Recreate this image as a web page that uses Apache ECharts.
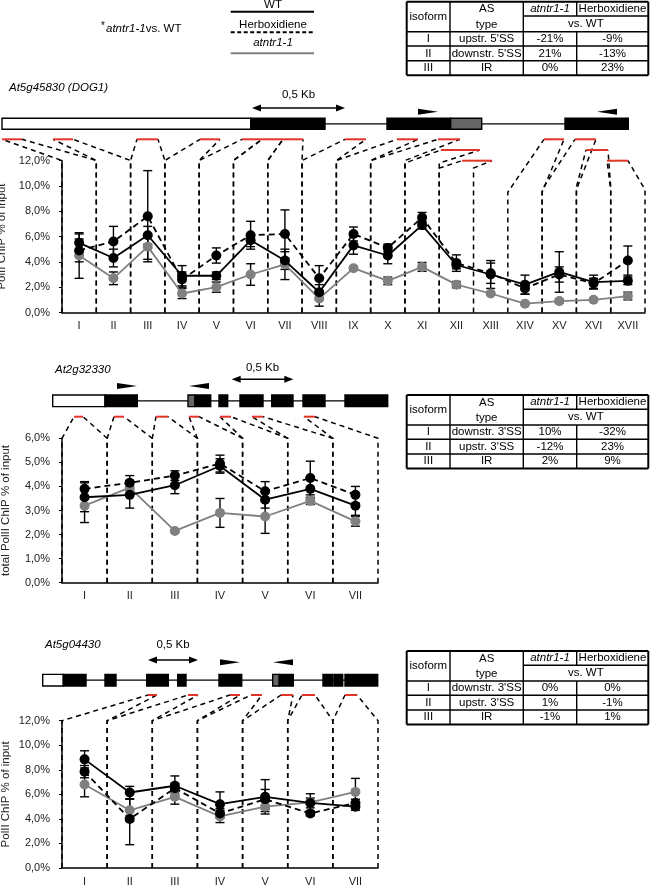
<!DOCTYPE html>
<html><head><meta charset="utf-8">
<script src="https://cdn.jsdelivr.net/npm/echarts@6/dist/echarts.min.js"></script>
<style>html,body{margin:0;padding:0;background:#fff}#c{width:650px;height:886px}</style>
</head><body><div id="c"></div>
<script>
const FONT = '"Liberation Sans", Arial, Helvetica, sans-serif';

// ---------- data: panel 1 (At5g45830) ----------
const cats1 = ['I','II','III','IV','V','VI','VII','VIII','IX','X','XI','XII','XIII','XIV','XV','XVI','XVII'];
const wt1    = [5.5,4.3,6.1,2.9,2.9,5.7,4.1,1.6,5.3,4.5,6.9,3.75,3.0,2.2,3.2,2.4,2.5];
const wt1Err = [0.7,0.7,0.7,0.8,0.3,0.5,0.7,0.6,0.7,0.65,0.3,0.3,1.1,0.75,1.6,0.55,0.3];
const herb1    = [4.9,5.6,7.6,2.6,4.5,6.1,6.2,2.7,6.2,5.1,7.5,3.9,3.1,1.9,3.0,2.3,4.1];
const herb1Err = [0.9,1.2,3.6,0.6,0.6,1.1,1.9,1.0,0.55,0.3,0.4,0.65,0.8,0.45,0.6,0.4,1.15];
const ntr1    = [4.5,2.7,5.2,1.5,2.0,3.0,3.8,1.1,3.5,2.5,3.6,2.2,1.5,0.7,0.9,1.0,1.3];
const ntr1Err = [1.8,0.5,1.0,0.4,0.4,0.85,1.2,0.6,0.15,0.3,0.35,0.25,0.1,0.05,0.15,0.1,0.3];
const sig1 = ['','','','*','','*','','','*','*','**','**','','*','','*','*'];

// ---------- data: panel 2 (At2g32330) ----------
const cats2 = ['I','II','III','IV','V','VI','VII'];
const wt2    = [3.55,3.65,4.05,4.85,3.45,3.9,3.2];
const wt2Err = [0.6,0.55,0.35,0.3,0.35,0.4,0.4];
const herb2    = [3.9,4.15,4.45,4.95,3.8,4.35,3.65];
const herb2Err = [0.3,0.3,0.2,0.35,0.4,0.7,0.35];
const ntr2    = [3.2,3.95,2.15,2.9,2.75,3.4,2.55];
const ntr2Err = [0.7,0.3,0.05,0.6,0.7,0.15,0.2];
const sig2 = ['','','**','**','','',''];

// ---------- data: panel 3 (At5g04430) ----------
const cats3 = ['I','II','III','IV','V','VI','VII'];
const wt3    = [8.85,6.15,6.7,5.2,5.8,5.3,5.0];
const wt3Err = [0.7,0.5,0.8,1.0,1.4,0.4,0.3];
const herb3    = [7.85,4.0,6.5,4.45,5.6,4.45,5.3];
const herb3Err = [0.5,2.1,0.4,0.4,0.8,0.2,0.3];
const ntr3    = [6.8,4.7,5.8,4.2,5.0,5.35,6.2];
const ntr3Err = [1.0,0.9,0.6,0.5,0.4,0.7,1.1];
const sig3 = ['*','','','','','',''];

// ---------- axes ----------
const yMax = [12, 6, 12];
const yStep = [2, 1, 2];
const yNames = ['PolII ChIP % of input', 'total PolII ChIP % of input', 'PolII ChIP % of input'];
const sigLevel = [10.5, 5.85, 10.8];
const kneeLevels1 = [12,12,12,12,12,12,12,12,12,12,11.8,11.4,null,9.5,9.7,9.9,9.7];
const kneeLevels2 = [6,6,6,6,6,6,6];
const kneeLevels3 = [12,12,12,12,12,12,12];

// ---------- gene structures (diagram units) ----------
const geneNames = ['At5g45830 (DOG1)', 'At2g32330', 'At5g04430'];
const gene1Span = [2, 628.3];
const gene1Exons = [[2,250.7,'utr'],[250.7,325,'cds'],[387,450.7,'cds'],[450.7,481.7,'ret'],[565,628.3,'cds']];
const gene1Probes = [[2,22,0],[53,73,0],[137,158,0],[200,220,0],[242,262,0],[262,283,0],[283,303,0],[345,366,0],[397,418,0],[438,460,0],[441,480,1],[462,492,2],null,[544,564,0],[575,596,0],[586,608,1],[607,628,2]];
const gene1Primers = [[418,438,1],[597,617,-1]];
const gene1Scale = [252,345];

const gene2Span = [52.7, 387.7];
const gene2Exons = [[52.7,105,'utr'],[105,137.3,'cds'],[188,195,'ret'],[195,210.7,'cds'],[219,227.7,'cds'],[240,263,'cds'],[271.7,293,'cds'],[303,325,'cds'],[345,387.7,'cds']];
const gene2Probes = [[74,83,0],[114,124,0],[156,168,0],[189,199,0],[220,231,0],[252,263,0],[304,315,0]];
const gene2Primers = [[117,137,1],[189,209,-1]];
const gene2Scale = [231.7,293.3];

const gene3Span = [42.7, 377.7];
const gene3Exons = [[42.7,63.3,'utr'],[63.3,86,'cds'],[105,116,'cds'],[146.7,168.3,'cds'],[177.7,186,'cds'],[219,241.7,'cds'],[272.7,279.3,'ret'],[279.3,293.3,'cds'],[323,332.7,'cds'],[334,342.7,'cds'],[345,377.7,'cds']];
const gene3Probes = [[148,157,0],[188,198,0],[230,240,0],[251,262,0],[281,293,0],[302,315,0],[345,357,0]];
const gene3Primers = [[220,240,1],[273,293,-1]];
const gene3Scale = [148,198];
const scaleLabel = '0,5 Kb';

// ---------- legend & tables ----------
const seriesNames = ['WT', 'Herboxidiene', 'atntr1-1'];
const tableHeader = ['isoform', 'AS', 'type', 'atntr1-1', 'Herboxidiene', 'vs. WT'];
const table1Rows = [['I',"upstr. 5'SS",'-21%','-9%'],['II',"downstr. 5'SS",'21%','-13%'],['III','IR','0%','23%']];
const table2Rows = [['I',"downstr. 3'SS",'10%','-32%'],['II',"upstr. 3'SS",'-12%','23%'],['III','IR','2%','9%']];
const table3Rows = [['I',"downstr. 3'SS",'0%','0%'],['II',"upstr. 3'SS",'1%','-1%'],['III','IR','-1%','1%']];

// ---------- assemble ----------
const panels = [
  {cats:cats1, wt:wt1, wtE:wt1Err, herb:herb1, herbE:herb1Err, ntr:ntr1, ntrE:ntr1Err, sig:sig1, knees:kneeLevels1},
  {cats:cats2, wt:wt2, wtE:wt2Err, herb:herb2, herbE:herb2Err, ntr:ntr2, ntrE:ntr2Err, sig:sig2, knees:kneeLevels2},
  {cats:cats3, wt:wt3, wtE:wt3Err, herb:herb3, herbE:herb3Err, ntr:ntr3, ntrE:ntr3Err, sig:sig3, knees:kneeLevels3}
];
const genes = [
  {span:gene1Span, exons:gene1Exons, probes:gene1Probes, primers:gene1Primers, scale:gene1Scale},
  {span:gene2Span, exons:gene2Exons, probes:gene2Probes, primers:gene2Primers, scale:gene2Scale},
  {span:gene3Span, exons:gene3Exons, probes:gene3Probes, primers:gene3Primers, scale:gene3Scale}
];
const geneLayout = [
  {top:85,  bar:38.8, barH:11,   mark:54.3, step:10.7, scaleY:23,   textY:10, primerY:26.7, nameX:9,  nameY:88},
  {top:360, bar:40.8, barH:11.7, mark:56.7, step:10.7, scaleY:19.3, textY:8,  primerY:26,   nameX:55, nameY:370},
  {top:640, bar:40.2, barH:11.7, mark:55,   step:10.7, scaleY:20,   textY:5,  primerY:22.3, nameX:45, nameY:645}
];
const chartGrids = [
  {left:62, top:160.5, width:583, height:152},
  {left:62, top:438.3, width:316, height:144.4},
  {left:62, top:720.7, width:316, height:147.3}
];
const RED = '#e3342a';
const GRAY = '#808080';

const grids = chartGrids.concat(geneLayout.map(L => ({left:0, top:L.top, width:650, height:80})))
  .map(g => Object.assign({outerBoundsMode:'none', containLabel:false}, g));
const xAxes = [], yAxes = [], series = [];

panels.forEach((P, p) => {
  xAxes.push({gridIndex:p, type:'category', data:P.cats, boundaryGap:true,
    axisLine:{show:true, lineStyle:{color:'#000', width:1.5}}, axisTick:{show:false},
    axisLabel:{color:'#222', fontSize:11, fontFamily:FONT, margin:8, interval:0}, splitLine:{show:false}});
  yAxes.push({gridIndex:p, type:'value', min:0, max:yMax[p], interval:yStep[p],
    axisLine:{show:true, lineStyle:{color:'#000', width:1.5}}, axisTick:{show:true, length:3, lineStyle:{color:'#000'}},
    splitLine:{show:false},
    axisLabel:{color:'#222', fontSize:11, fontFamily:FONT, margin:12, formatter:v => v.toFixed(1).replace('.', ',') + '%'},
    name:yNames[p], nameLocation:'middle', nameGap:50, nameTextStyle:{color:'#222', fontSize:11.5, fontFamily:FONT}});
});
geneLayout.forEach((L, g) => {
  xAxes.push({gridIndex:3+g, type:'value', min:0, max:650, show:false});
  yAxes.push({gridIndex:3+g, type:'value', min:0, max:80, inverse:true, show:false});
});

function errSeries(p, vals, errs) {
  return {type:'custom', xAxisIndex:p, yAxisIndex:p, z:3, silent:true,
    data: vals.map((v, i) => [i, v - errs[i], v + errs[i]]),
    encode:{x:0, y:[1, 2]},
    renderItem:(params, api) => {
      const x = api.value(0);
      const lo = api.coord([x, api.value(1)]), hi = api.coord([x, api.value(2)]);
      const w = 4.5, st = {stroke:'#000', lineWidth:1.4};
      return {type:'group', children:[
        {type:'line', shape:{x1:lo[0], y1:lo[1], x2:hi[0], y2:hi[1]}, style:st},
        {type:'line', shape:{x1:lo[0]-w, y1:lo[1], x2:lo[0]+w, y2:lo[1]}, style:st},
        {type:'line', shape:{x1:hi[0]-w, y1:hi[1], x2:hi[0]+w, y2:hi[1]}, style:st}]};
    }};
}
function lineSeries(p, name, vals, color, dashed, z) {
  return {type:'line', name, xAxisIndex:p, yAxisIndex:p, data:vals, symbol:'circle', symbolSize:10,
    itemStyle:{color}, lineStyle:{color, width:1.8, type:dashed ? [6, 4] : 'solid'}, z, silent:true};
}

panels.forEach((P, p) => {
  series.push(errSeries(p, P.ntr, P.ntrE));
  series.push(errSeries(p, P.herb, P.herbE));
  series.push(errSeries(p, P.wt, P.wtE));
  series.push(lineSeries(p, seriesNames[2], P.ntr, GRAY, false, 5));
  series.push(lineSeries(p, seriesNames[1], P.herb, '#000', true, 6));
  series.push(lineSeries(p, seriesNames[0], P.wt, '#000', false, 7));
  series.push({type:'scatter', xAxisIndex:p, yAxisIndex:p, symbolSize:1, itemStyle:{opacity:0}, silent:true, z:8,
    data: P.sig.map((s, i) => [i, sigLevel[p], s]).filter(d => d[2]),
    label:{show:true, position:'inside', formatter: d => d.data[2], color:'#000', fontSize:12, fontFamily:FONT}});
});

genes.forEach((G, g) => {
  const L = geneLayout[g], ax = 3 + g;
  const base = {type:'custom', xAxisIndex:ax, yAxisIndex:ax, silent:true, encode:{x:[0,1]}};
  series.push(Object.assign({}, base, {z:3, data:[G.span], renderItem:(params, api) => {
    const a = api.coord([G.span[0], L.bar]), b = api.coord([G.span[1], L.bar]);
    return {type:'line', shape:{x1:a[0], y1:a[1], x2:b[0], y2:b[1]}, style:{stroke:'#000', lineWidth:1.3}};
  }}));
  series.push(Object.assign({}, base, {z:4, data:G.exons.map(e => [e[0], e[1]]), renderItem:(params, api) => {
    const e = G.exons[params.dataIndex];
    const a = api.coord([e[0], L.bar]), b = api.coord([e[1], L.bar]);
    const fill = e[2] === 'utr' ? '#fff' : (e[2] === 'ret' ? '#666' : '#000');
    return {type:'rect', shape:{x:a[0], y:a[1] - L.barH/2, width:b[0] - a[0], height:L.barH}, style:{fill, stroke:'#000', lineWidth:1.4}};
  }}));
  const probes = G.probes.filter(d => d);
  series.push(Object.assign({}, base, {z:6, data:probes.map(d => [d[0], d[1]]), renderItem:(params, api) => {
    const d = probes[params.dataIndex], yv = L.mark + d[2] * L.step;
    const a = api.coord([d[0], yv]), b = api.coord([d[1], yv]);
    return {type:'line', shape:{x1:a[0], y1:a[1], x2:b[0], y2:b[1]}, style:{stroke:RED, lineWidth:2}};
  }}));
  series.push(Object.assign({}, base, {z:4, data:G.primers.map(d => [d[0], d[1]]), renderItem:(params, api) => {
    const d = G.primers[params.dataIndex];
    const a = api.coord([d[0], L.primerY]), b = api.coord([d[1], L.primerY]);
    const pts = d[2] > 0 ? [[a[0], a[1]-3], [b[0], a[1]], [a[0], a[1]+3]] : [[b[0], a[1]-3], [a[0], a[1]], [b[0], a[1]+3]];
    return {type:'polygon', shape:{points:pts}, style:{fill:'#000'}};
  }}));
  series.push(Object.assign({}, base, {z:4, data:[G.scale], renderItem:(params, api) => {
    const a = api.coord([G.scale[0], L.scaleY]), b = api.coord([G.scale[1], L.scaleY]);
    const t = api.coord([(G.scale[0] + G.scale[1]) / 2, L.textY]);
    return {type:'group', children:[
      {type:'line', shape:{x1:a[0]+3, y1:a[1], x2:b[0]-3, y2:b[1]}, style:{stroke:'#000', lineWidth:1.6}},
      {type:'polygon', shape:{points:[[a[0], a[1]], [a[0]+9, a[1]-3.5], [a[0]+9, a[1]+3.5]]}, style:{fill:'#000'}},
      {type:'polygon', shape:{points:[[b[0], b[1]], [b[0]-9, b[1]-3.5], [b[0]-9, b[1]+3.5]]}, style:{fill:'#000'}},
      {type:'text', x:t[0], y:t[1], style:{text:scaleLabel, align:'center', verticalAlign:'middle', fontSize:11.5, fontFamily:FONT, fill:'#000'}}
    ]};
  }}));
});

const chart = echarts.init(document.getElementById('c'));
chart.setOption({animation:false, backgroundColor:'#fff', grid:grids, xAxis:xAxes, yAxis:yAxes, series});

// ---------- graphic: connectors, legend, tables, gene names ----------
const els = [];
function txt(x, y, s, o) {
  o = o || {};
  els.push({type:'text', x, y, z:10, style:{text:s, align:o.align || 'center', verticalAlign:'middle',
    fontSize:o.size || 11.5, fontFamily:FONT, fontStyle:o.italic ? 'italic' : 'normal', fill:'#000'}});
}
function ln(x1, y1, x2, y2, w, extra) {
  els.push({type:'line', z:10, shape:{x1, y1, x2, y2}, style:Object.assign({stroke:'#000', lineWidth:w}, extra || {})});
}

panels.forEach((P, p) => {
  const G = genes[p], L = geneLayout[p];
  const c0 = chart.convertToPixel({xAxisIndex:p}, P.cats[0]);
  const c1 = chart.convertToPixel({xAxisIndex:p}, P.cats[1]);
  const band = c1 - c0;
  const y0 = chart.convertToPixel({yAxisIndex:p}, 0);
  P.cats.forEach((c, i) => {
    const pr = G.probes[i], knee = P.knees[i];
    if (!pr || knee == null) return;
    const xc = chart.convertToPixel({xAxisIndex:p}, c);
    const xl = xc - band / 2, xr = xc + band / 2;
    const yk = chart.convertToPixel({yAxisIndex:p}, knee);
    const ml = chart.convertToPixel({xAxisIndex:3+p}, pr[0]);
    const mr = chart.convertToPixel({xAxisIndex:3+p}, pr[1]);
    const my = chart.convertToPixel({yAxisIndex:3+p}, L.mark + pr[2] * L.step);
    [[xl, ml], [xr, mr]].forEach(([xb, xm]) => {
      els.push({type:'polyline', z:1, silent:true, shape:{points:[[xb, y0], [xb, yk], [xm, my]]},
        style:{stroke:'#000', lineWidth:1.5, lineDash:[5, 4], fill:null}});
    });
  });
  txt(L.nameX, L.nameY, geneNames[p], {align:'left', italic:true, size:11.5});
});

// legend
txt(103, 26, '*', {size:10});
els.push({type:'text', x:106, y:29, z:10, style:{text:'{i|' + seriesNames[2] + '}vs. WT', align:'left', verticalAlign:'middle',
  fontSize:11.5, fontFamily:FONT, fill:'#000', rich:{i:{fontStyle:'italic', fontSize:11.5, fontFamily:FONT}}}});
txt(273, 4.5, seriesNames[0], {size:11.5});
ln(230.7, 11.7, 314, 11.7, 2);
txt(273, 24.5, seriesNames[1], {size:11.5});
ln(230.7, 32.3, 314, 32.3, 2, {lineDash:[4, 2.5]});
txt(273, 43, seriesNames[2], {size:11.5, italic:true});
ln(230.7, 53.3, 314, 53.3, 2, {stroke:GRAY});

// tables
const tableCols = [406.7, 450, 523.3, 576.7, 648.3];
const tableRowsY = [0, 14.3, 30, 44.3, 59, 73.5];
function table(top, rows) {
  const C = tableCols, H = tableRowsY.map(h => top + h);
  ln(C[0], H[0], C[4], H[0], 2); ln(C[0], H[5], C[4], H[5], 2);
  ln(C[0], H[0], C[0], H[5], 2); ln(C[4], H[0], C[4], H[5], 2);
  ln(C[1], H[0], C[1], H[5], 1.4); ln(C[2], H[0], C[2], H[5], 1.4);
  ln(C[3], H[0], C[3], H[1], 1.4); ln(C[3], H[2], C[3], H[5], 1.4);
  ln(C[2], H[1], C[4], H[1], 1.4);
  [2, 3, 4].forEach(k => ln(C[0], H[k], C[4], H[k], 1.4));
  txt((C[0] + C[1]) / 2, top + 15, tableHeader[0]);
  txt((C[1] + C[2]) / 2, top + 7.5, tableHeader[1]);
  txt((C[1] + C[2]) / 2, top + 23, tableHeader[2]);
  txt((C[2] + C[3]) / 2, (H[0] + H[1]) / 2, tableHeader[3], {italic:true});
  txt((C[3] + C[4]) / 2, (H[0] + H[1]) / 2, tableHeader[4]);
  txt((C[2] + C[4]) / 2, (H[1] + H[2]) / 2, tableHeader[5]);
  rows.forEach((r, i) => {
    const yc = (H[2 + i] + H[3 + i]) / 2;
    r.forEach((s, j) => txt((C[j] + C[j + 1]) / 2, yc, s));
  });
}
table(1.7, table1Rows);
table(395, table2Rows);
table(651, table3Rows);

chart.setOption({graphic:{elements:els}});
</script></body></html>
